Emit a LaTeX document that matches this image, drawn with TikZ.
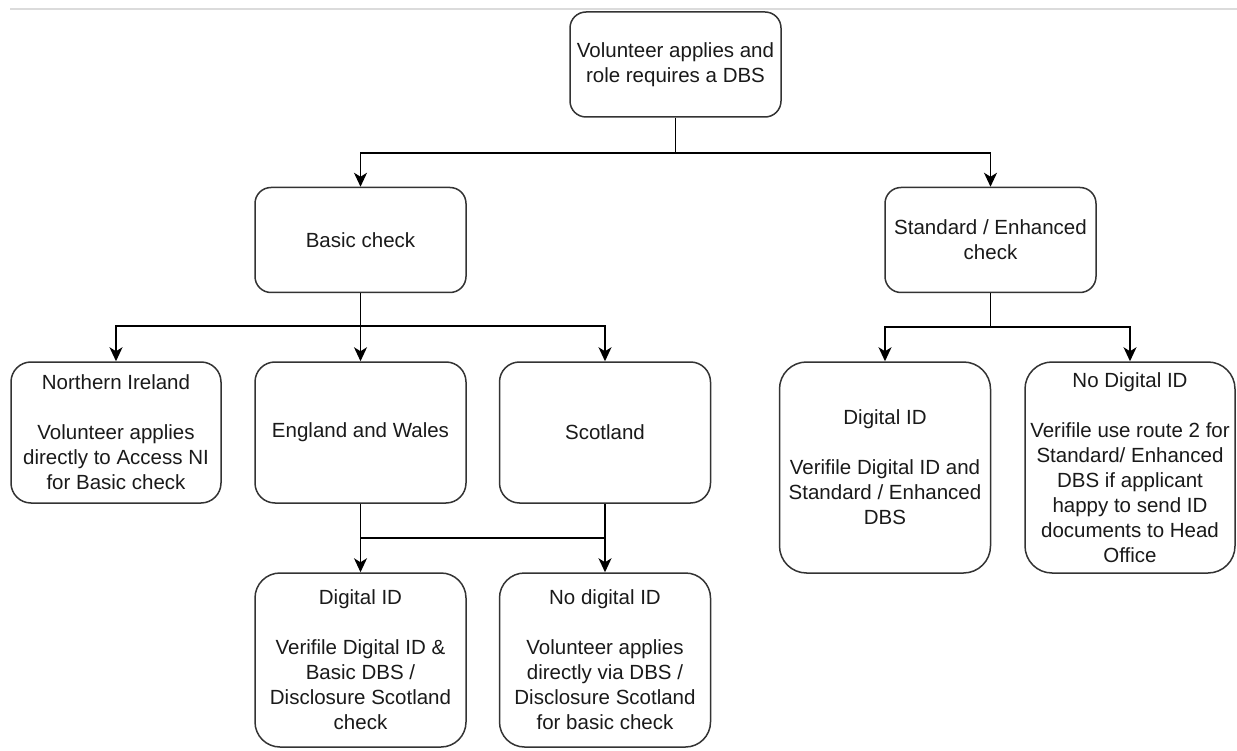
\documentclass[tikz,border=0pt]{standalone}
\usepackage{fontspec}
\setmainfont{Liberation Sans}
\usetikzlibrary{arrows.meta}
\definecolor{boxline}{HTML}{333333}
\definecolor{txt}{HTML}{1A1A1A}
\tikzset{
  box/.style={draw=boxline, line width=1.5pt, fill=white, rectangle,
    minimum width=211pt, inner sep=2pt, align=center, text=txt,
    font=\fontsize{20.5pt}{25pt}\selectfont},
  conn/.style={draw=black, line width=1.5pt},
  arr/.style={conn, -{Stealth[length=14pt,width=13pt,inset=4pt]}}
}
\begin{document}
\begin{tikzpicture}[x=1pt,y=-1pt]
\useasboundingbox (0,0) rectangle (1237,751);
\draw[black!14, line width=2pt] (10,9) -- (1237,9);

\node[box, minimum height=105pt, rounded corners=16pt] (top) at (675.5,64.5)
  {Volunteer applies and\\role requires a DBS};
\node[box, minimum height=105pt, rounded corners=16pt] (basic) at (360.5,240)
  {Basic check};
\node[box, minimum height=105pt, rounded corners=16pt] (std) at (990.5,240)
  {Standard / Enhanced\\check};
\node[box, minimum width=210pt, minimum height=141pt, rounded corners=20pt] (ni) at (116,432.5)
  {Northern Ireland\\[25pt]Volunteer applies\\directly to Access NI\\for Basic check};
\node[box, minimum height=141pt, rounded corners=20pt] (ew) at (360.5,432.5)
  {England and Wales};
\node[box, minimum height=141pt, rounded corners=20pt] (scot) at (605,432.5)
  {Scotland};
\node[box, minimum height=174pt, rounded corners=25pt] (digb) at (360.5,660)
  {Digital ID\\[25pt]Verifile Digital ID \&\\Basic DBS /\\Disclosure Scotland\\check};
\node[box, minimum height=174pt, rounded corners=25pt] (nodigb) at (605,660)
  {No digital ID\\[25pt]Volunteer applies\\directly via DBS /\\Disclosure Scotland\\for basic check};
\node[box, minimum height=211pt, rounded corners=27pt] (digr) at (885,467.5)
  {Digital ID\\[25pt]Verifile Digital ID and\\Standard / Enhanced\\DBS};
\node[box, minimum width=210pt, minimum height=211pt, rounded corners=27pt] (nodigr) at (1130,467.5)
  {No Digital ID\\[25pt]Verifile use route 2 for\\Standard/ Enhanced\\DBS if applicant\\happy to send ID\\documents to Head\\Office};

\coordinate (j1) at (675.5,153);
\coordinate (j2) at (360.5,326);
\coordinate (j3) at (990.5,327);
\coordinate (j4) at (360.5,538);
\coordinate (j5) at (605,538);

\draw[conn] (top.south) -- (j1);
\draw[arr] (j1) -| (basic.north);
\draw[arr] (j1) -| (std.north);

\draw[conn] (basic.south) -- (j2);
\draw[arr] (j2) -| (ni.north);
\draw[arr] (j2) -- (ew.north);
\draw[arr] (j2) -| (scot.north);

\draw[conn] (std.south) -- (j3);
\draw[arr] (j3) -| (digr.north);
\draw[arr] (j3) -| (nodigr.north);

\draw[arr] (ew.south) -- (digb.north);
\draw[arr] (scot.south) -- (nodigb.north);
\draw[conn] (j4) -- (j5);
\end{tikzpicture}
\end{document}
